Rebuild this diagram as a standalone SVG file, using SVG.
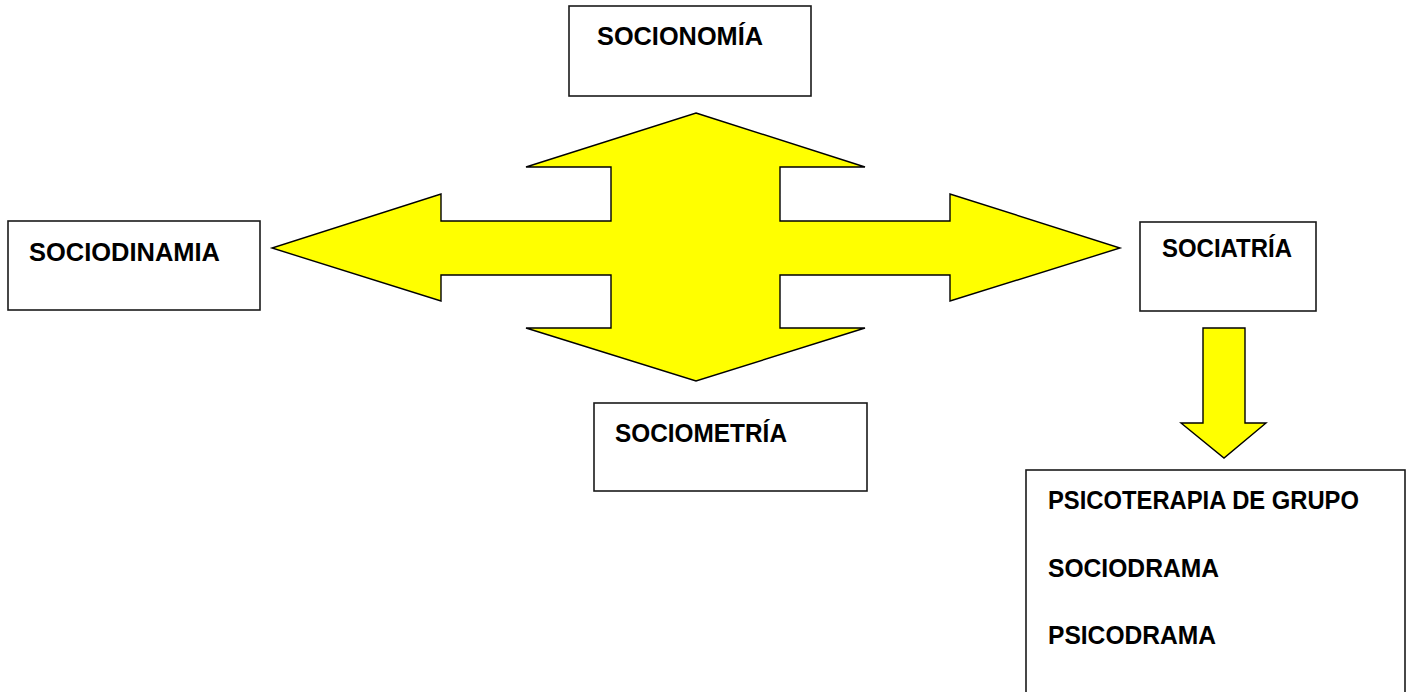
<svg xmlns="http://www.w3.org/2000/svg" width="1410" height="692" viewBox="0 0 1410 692">
<style>
.box{fill:#fff;stroke:#1a1a1a;stroke-width:1.6}
.arrow{fill:#ffff00;stroke:#000;stroke-width:1.4;stroke-linejoin:miter}
.lbl{font-family:"Liberation Sans",Arial,sans-serif;font-weight:bold;font-size:25px;fill:#000}
</style>
<rect width="1410" height="692" fill="#fff"/>
<g id="connectors">
<polygon class="arrow" points="696,113 865,167 780,167 780,221 950,221 950,194 1120,248 950,301 950,275 780,275 780,328 865,328 696,381 526,328 611,328 611,275 441,275 441,301 272,248 441,194 441,221 611,221 611,167 526,167"/>
<polygon class="arrow" points="1203,328 1245,328 1245,423 1266,423 1224,458 1181,423 1203,423"/>
</g>
<g id="socionomia">
<rect class="box" x="569" y="6" width="242" height="90"/>
<text class="lbl" x="597" y="45" textLength="166" lengthAdjust="spacingAndGlyphs">SOCIONOMÍA</text>
</g>
<g id="sociodinamia">
<rect class="box" x="8" y="221" width="252" height="89"/>
<text class="lbl" x="29" y="261" textLength="191" lengthAdjust="spacingAndGlyphs">SOCIODINAMIA</text>
</g>
<g id="sociometria">
<rect class="box" x="594" y="403" width="273" height="88"/>
<text class="lbl" x="615" y="442" textLength="172" lengthAdjust="spacingAndGlyphs">SOCIOMETRÍA</text>
</g>
<g id="sociatria">
<rect class="box" x="1140" y="222" width="176" height="89"/>
<text class="lbl" x="1162" y="257" textLength="130" lengthAdjust="spacingAndGlyphs">SOCIATRÍA</text>
</g>
<g id="tecnicas">
<rect class="box" x="1026" y="470" width="379" height="240"/>
<text class="lbl" x="1048" y="509" textLength="311" lengthAdjust="spacingAndGlyphs">PSICOTERAPIA DE GRUPO</text>
<text class="lbl" x="1048" y="577" textLength="171" lengthAdjust="spacingAndGlyphs">SOCIODRAMA</text>
<text class="lbl" x="1048" y="644" textLength="168" lengthAdjust="spacingAndGlyphs">PSICODRAMA</text>
</g>
</svg>
